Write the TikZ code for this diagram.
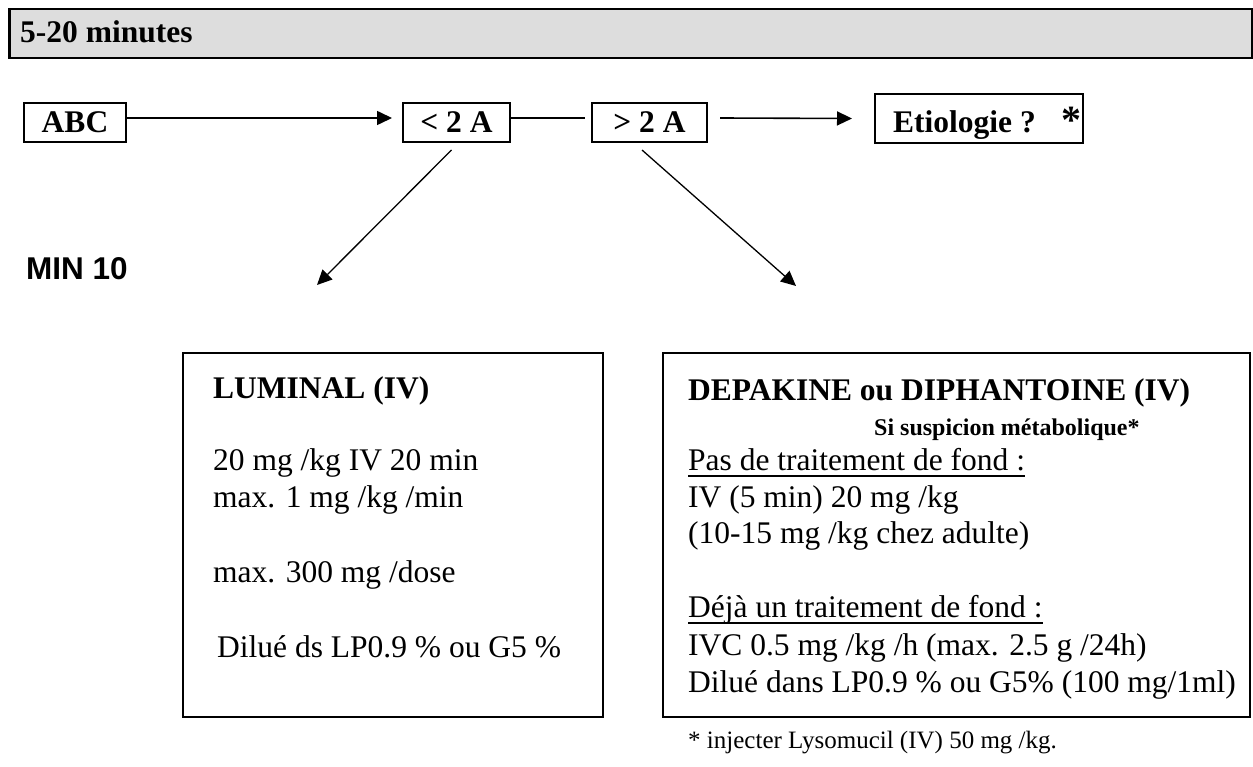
\documentclass[tikz,border=0pt]{standalone}
\usepackage{fontspec}
\setmainfont{Liberation Serif}
\setsansfont{Liberation Sans}
\usetikzlibrary{positioning,arrows.meta}
\definecolor{headgray}{RGB}{221,221,221}
\newcommand{\txtsize}{\fontsize{31.5}{37.5}\selectfont}
\newcommand{\smallsize}{\fontsize{24}{28}\selectfont}
\newcommand{\notesize}{\fontsize{25}{30}\selectfont}

\begin{document}
\begin{tikzpicture}[>={Triangle[length=15pt,width=14pt]}, x=1pt, y=-1pt,
    box/.style={draw, line width=2pt, inner sep=0pt, font=\txtsize\bfseries},
    bigbox/.style={draw, line width=2pt, anchor=north west, inner sep=0pt},
    txt/.style={anchor=base west, inner sep=0pt, font=\txtsize},
    conn/.style={line width=1.6pt},
    diag/.style={line width=1.3pt}]
    \useasboundingbox (0,0) rectangle (1253,767);

    % En-tete
    \node[draw, line width=2.5pt, fill=headgray, anchor=north west, inner sep=0pt,
          minimum width=1243pt, minimum height=49pt] (head) at (8,8) {};
    \node[txt, font=\txtsize\bfseries] (headtxt) at (20,43) {5-20 minutes};

    % Premiere ligne
    \node[box, minimum width=102pt, minimum height=39pt] (abc) at (75,122.5) {ABC};
    \node[box, minimum width=107pt, minimum height=39pt] (lt) at (456.5,122.5) {< 2 A};
    \node[box, minimum width=115pt, minimum height=39pt] (gt) at (649.5,122.5) {> 2 A};
    \node[box, minimum width=208pt, minimum height=49pt] (etio) at (979,118.5) {};
    \node[txt, font=\txtsize\bfseries] (etiotxt) at (893,133) {Etiologie ?};
    \node[inner sep=0pt, anchor=north east, font=\fontsize{40}{40}\selectfont\bfseries] (star) at (1082,107) {*};

    % Fleches
    \draw[conn, ->] ([yshift=4.5pt]abc.east) -- ([xshift=-10pt, yshift=4.5pt]lt.west);
    \draw[conn] ([yshift=4.5pt]lt.east) -- ([xshift=-6pt, yshift=4.5pt]gt.west);
    \draw[conn, ->] ([xshift=12pt, yshift=4.5pt]gt.east) -- ([xshift=-22pt]etio.west);

    \coordinate (lumtip) at (317,285);
    \coordinate (deptip) at (796,286);
    \draw[diag, ->] ([xshift=-5pt, yshift=-7pt]lt.south) -- (lumtip);
    \draw[diag, ->] ([xshift=-7.5pt, yshift=-7pt]gt.south) -- (deptip);

    \node[anchor=base west, inner sep=0pt, font=\sffamily\bfseries\txtsize] (min) at (26,280) {MIN 10};

    % Cadres
    \node[bigbox, minimum width=420pt, minimum height=364pt] (lum) at (182,352) {};
    \node[bigbox, minimum width=587pt, minimum height=364pt] (dep) at (662,352) {};

    \node[txt, font=\txtsize\bfseries] (lum1) at (213,398) {LUMINAL (IV)};
    \node[txt] (lum2) at (213,470) {20 mg /kg IV 20 min};
    \node[txt] (lum3) at (213,507) {max. 1 mg /kg /min};
    \node[txt] (lum4) at (213,582) {max. 300 mg /dose};
    \node[txt] (lum5) at (217,657) {Dilué ds LP0.9 \% ou G5 \%};

    \node[txt, font=\txtsize\bfseries] (dep1) at (688,400) {DEPAKINE ou DIPHANTOINE (IV)};
    \node[txt, font=\smallsize\bfseries] (dep2) at (874,435) {Si suspicion métabolique*};
    \node[txt] (dep3) at (688,470) {Pas de traitement de fond :};
    \node[txt] (dep4) at (688,507) {IV (5 min) 20 mg /kg};
    \node[txt] (dep5) at (688,543) {(10-15 mg /kg chez adulte)};
    \node[txt] (dep6) at (688,617) {Déjà un traitement de fond :};
    \node[txt] (dep7) at (688,655) {IVC 0.5 mg /kg /h (max. 2.5 g /24h)};
    \node[txt] (dep8) at (688,692) {Dilué dans LP0.9 \% ou G5\% (100 mg/1ml)};
    \draw[line width=1.3pt] ([yshift=-6pt]dep3.base west) -- ([yshift=-6pt]dep3.base east);
    \draw[line width=1.3pt] ([yshift=-6pt]dep6.base west) -- ([yshift=-6pt]dep6.base east);

    % Note
    \node[txt, font=\notesize] (note) at (688,748) {* injecter Lysomucil (IV) 50 mg /kg.};
\end{tikzpicture}
\end{document}
